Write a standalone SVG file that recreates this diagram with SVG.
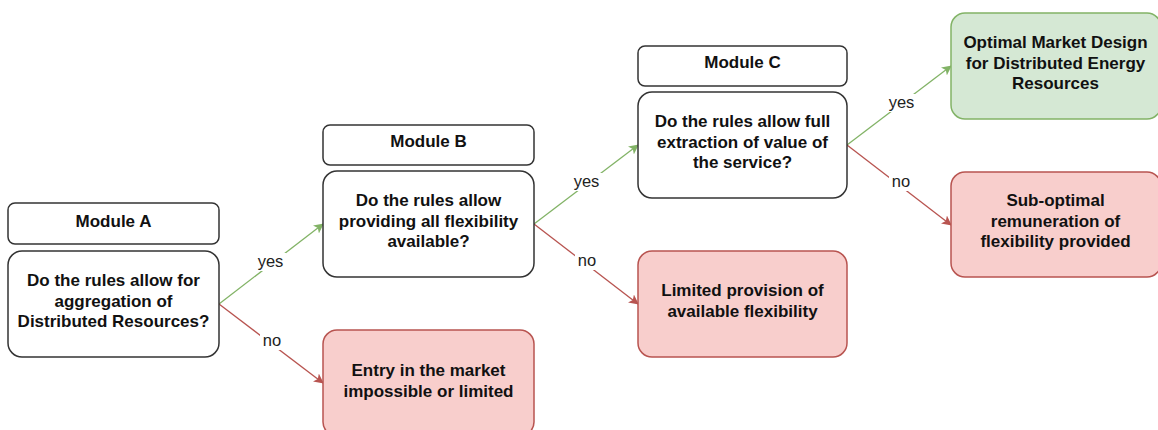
<svg xmlns="http://www.w3.org/2000/svg" width="1158" height="430" viewBox="0 0 1158 430">
<style>
.n{fill:#fff;stroke:#333;stroke-width:1.5}
.g{fill:#d5e8d4;stroke:#82b366;stroke-width:1.5}
.r{fill:#f8cecc;stroke:#b85450;stroke-width:1.5}
.t{font-family:"Liberation Sans",Arial,sans-serif;font-size:17px;font-weight:bold;fill:#111;text-anchor:middle}
.l{font-family:"Liberation Sans",Arial,sans-serif;font-size:16.5px;fill:#222;text-anchor:middle}
.cy{fill:none;stroke:#82b366;stroke-width:1.3}
.cn{fill:none;stroke:#b85450;stroke-width:1.3}
.bg{fill:#fff}
</style>
<defs>
<marker id="ag" viewBox="0 0 10 10" refX="9" refY="5" markerWidth="10" markerHeight="10" markerUnits="userSpaceOnUse" orient="auto"><path d="M0,0 L10,5 L0,10 L2.5,5 Z" fill="#82b366"/></marker>
<marker id="ar" viewBox="0 0 10 10" refX="9" refY="5" markerWidth="10" markerHeight="10" markerUnits="userSpaceOnUse" orient="auto"><path d="M0,0 L10,5 L0,10 L2.5,5 Z" fill="#b85450"/></marker>
</defs>
<rect width="1158" height="430" fill="#fff"/>
<g id="connectors">
<path class="cy" d="M219,304 L323,224" marker-end="url(#ag)"/>
<path class="cn" d="M219,304 L323,383" marker-end="url(#ar)"/>
<path class="cy" d="M534,224 L638,145" marker-end="url(#ag)"/>
<path class="cn" d="M534,224 L638,304" marker-end="url(#ar)"/>
<path class="cy" d="M847,145 L951,66" marker-end="url(#ag)"/>
<path class="cn" d="M847,145 L951,225" marker-end="url(#ar)"/>
<rect class="bg" x="255" y="253" width="31" height="18"/><text class="l" x="270.5" y="267">yes</text>
<rect class="bg" x="260" y="332" width="24" height="18"/><text class="l" x="272" y="346">no</text>
<rect class="bg" x="571" y="173" width="31" height="18"/><text class="l" x="586.5" y="187">yes</text>
<rect class="bg" x="575" y="252" width="24" height="18"/><text class="l" x="587" y="266">no</text>
<rect class="bg" x="886" y="94" width="31" height="18"/><text class="l" x="901.5" y="108">yes</text>
<rect class="bg" x="889" y="173" width="24" height="18"/><text class="l" x="901" y="187">no</text>
</g>
<g id="moduleA"><rect class="n" x="8" y="203" width="211" height="41" rx="7"/><text class="t" x="113.5" y="226.5">Module A</text></g>
<g id="questionA"><rect class="n" x="8" y="251" width="211" height="106" rx="14"/>
<text class="t" x="113.5" y="286">Do the rules allow for</text><text class="t" x="113.5" y="306.5">aggregation of</text><text class="t" x="113.5" y="327">Distributed Resources?</text></g>
<g id="entry"><rect class="r" x="323" y="330" width="211" height="106" rx="14"/>
<text class="t" x="428.5" y="376">Entry in the market</text><text class="t" x="428.5" y="396.5">impossible or limited</text></g>
<g id="moduleB"><rect class="n" x="323" y="125" width="211" height="40" rx="7"/><text class="t" x="428.5" y="147">Module B</text></g>
<g id="questionB"><rect class="n" x="323" y="171" width="211" height="106" rx="14"/>
<text class="t" x="428.5" y="206">Do the rules allow</text><text class="t" x="428.5" y="226.5">providing all flexibility</text><text class="t" x="428.5" y="247">available?</text></g>
<g id="limited"><rect class="r" x="638" y="251" width="209" height="106" rx="14"/>
<text class="t" x="742.5" y="296">Limited provision of</text><text class="t" x="742.5" y="316.5">available flexibility</text></g>
<g id="moduleC"><rect class="n" x="638" y="46" width="209" height="40" rx="7"/><text class="t" x="742.5" y="68">Module C</text></g>
<g id="questionC"><rect class="n" x="638" y="92" width="209" height="106" rx="14"/>
<text class="t" x="742.5" y="127">Do the rules allow full</text><text class="t" x="742.5" y="147.5">extraction of value of</text><text class="t" x="742.5" y="168">the service?</text></g>
<g id="optimal"><rect class="g" x="951" y="13" width="210" height="106" rx="14"/>
<text class="t" x="1055.5" y="48">Optimal Market Design</text><text class="t" x="1055.5" y="68.5">for Distributed Energy</text><text class="t" x="1055.5" y="89">Resources</text></g>
<g id="suboptimal"><rect class="r" x="951" y="172" width="210" height="105" rx="14"/>
<text class="t" x="1055.5" y="206">Sub-optimal</text><text class="t" x="1055.5" y="226.5">remuneration of</text><text class="t" x="1055.5" y="247">flexibility provided</text></g>
</svg>
